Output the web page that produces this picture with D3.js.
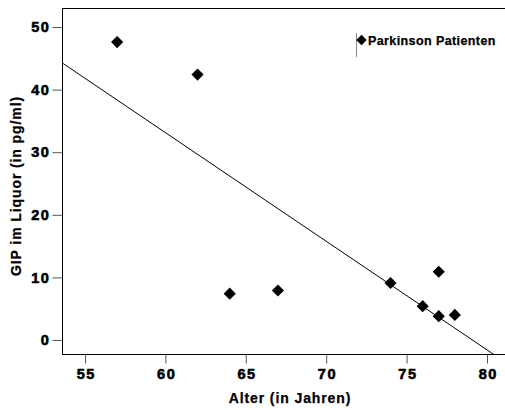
<!DOCTYPE html>
<html>
<head>
<meta charset="utf-8">
<script src="https://cdn.jsdelivr.net/npm/d3@7"></script>
<style>
  html, body { margin: 0; padding: 0; background: #fff; }
  svg { display: block; }
  text { font-family: "Liberation Sans", Arial, Helvetica, sans-serif; font-weight: bold; fill: #000; stroke: #000; stroke-width: 0.25px; }
</style>
</head>
<body>
<svg id="chart" width="505" height="410"></svg>
<script>
// Data
const ages = [57, 62, 64, 67, 74, 76, 77, 77, 78];
const gipValues = [47.6, 42.4, 7.4, 7.9, 9.1, 5.4, 10.9, 3.8, 4.0];
const xTicks = [55, 60, 65, 70, 75, 80];
const yTicks = [0, 10, 20, 30, 40, 50];
const seriesName = "Parkinson Patienten";
const xTitle = "Alter (in Jahren)";
const yTitle = "GIP im Liquor (in pg/ml)";

(function () {
const svg = d3.select("#chart");
const mLeft = 62, mTop = 8, mBottom = 354, mRight = 505;

const x = d3.scaleLinear().domain([53.57, 81.12]).range([mLeft, mRight]);
const y = d3.scaleLinear().domain([-2.24, 53.04]).range([mBottom, mTop]);

// clip for plot area
svg.append("defs").append("clipPath").attr("id", "plotclip")
  .append("rect").attr("x", mLeft).attr("y", mTop).attr("width", mRight - mLeft).attr("height", mBottom - mTop);

// frame top line
svg.append("line").attr("x1", mLeft).attr("x2", mRight).attr("y1", mTop + 0.5).attr("y2", mTop + 0.5)
  .attr("stroke", "#000").attr("stroke-width", 1);

// axes
const xAxis = d3.axisBottom(x).tickValues(xTicks).tickSize(9).tickPadding(5).tickSizeOuter(0);
const yAxis = d3.axisLeft(y).tickValues(yTicks).tickSize(10).tickPadding(2).tickSizeOuter(0);

function styleTicks(g) {
  g.selectAll(".tick text")
    .style("font-family", "'Liberation Sans', Arial, sans-serif")
    .style("font-weight", "bold")
    .style("font-size", "14.5px")
    .style("letter-spacing", "1.6px")
    .style("fill", "#000")
    .style("stroke", "#000")
    .style("stroke-width", "0.6px");
  g.selectAll(".tick line").attr("stroke", "#555");
}

const gx = svg.append("g").attr("transform", `translate(0,${mBottom + 0.5})`).call(xAxis);
gx.select(".domain").attr("d", `M${mLeft},0H${mRight}`).attr("stroke", "#000");
styleTicks(gx);
gx.selectAll(".tick text").attr("dx", "0.8px");

const gy = svg.append("g").attr("transform", `translate(${mLeft + 0.5},0)`).call(yAxis);
gy.select(".domain").attr("d", `M0,${mTop}V${mBottom}`).attr("stroke", "#000");
styleTicks(gy);

// regression line computed from the data (least squares)
const n = ages.length;
const mx = d3.mean(ages), my = d3.mean(gipValues);
let sxy = 0, sxx = 0;
for (let i = 0; i < n; i++) { sxy += (ages[i] - mx) * (gipValues[i] - my); sxx += (ages[i] - mx) ** 2; }
const slope = sxy / sxx, intercept = my - slope * mx;
const xd = x.domain();
svg.append("g").attr("clip-path", "url(#plotclip)")
  .append("line")
  .attr("x1", x(xd[0])).attr("y1", y(intercept + slope * xd[0]))
  .attr("x2", x(xd[1])).attr("y2", y(intercept + slope * xd[1]))
  .attr("stroke", "#000").attr("stroke-width", 1);

// points
const diamond = d3.symbol(d3.symbolSquare).size(74);
svg.append("g").selectAll("path").data(ages.map((a, i) => [a, gipValues[i]])).join("path")
  .attr("d", diamond)
  .attr("transform", d => `translate(${x(d[0])},${y(d[1])}) rotate(45)`)
  .attr("fill", "#000");

// legend
const lg = svg.append("g");
lg.append("line").attr("x1", 356.5).attr("x2", 356.5).attr("y1", 33).attr("y2", 57)
  .attr("stroke", "#888").attr("stroke-width", 1);
lg.append("path").attr("d", d3.symbol(d3.symbolSquare).size(56))
  .attr("transform", "translate(361.5,40) rotate(45)").attr("fill", "#000");
lg.append("text").attr("x", 368).attr("y", 44.5).attr("font-size", "12.5px")
  .attr("letter-spacing", "0.4px").text(seriesName);

// axis titles
svg.append("text").attr("x", 290).attr("y", 403).attr("text-anchor", "middle")
  .attr("font-size", "14px").attr("letter-spacing", "0.9px").text(xTitle);
svg.append("text").attr("transform", "translate(21,186) rotate(-90)").attr("text-anchor", "middle")
  .attr("font-size", "14px").attr("letter-spacing", "0.9px").text(yTitle);
})();
</script>
</body>
</html>
